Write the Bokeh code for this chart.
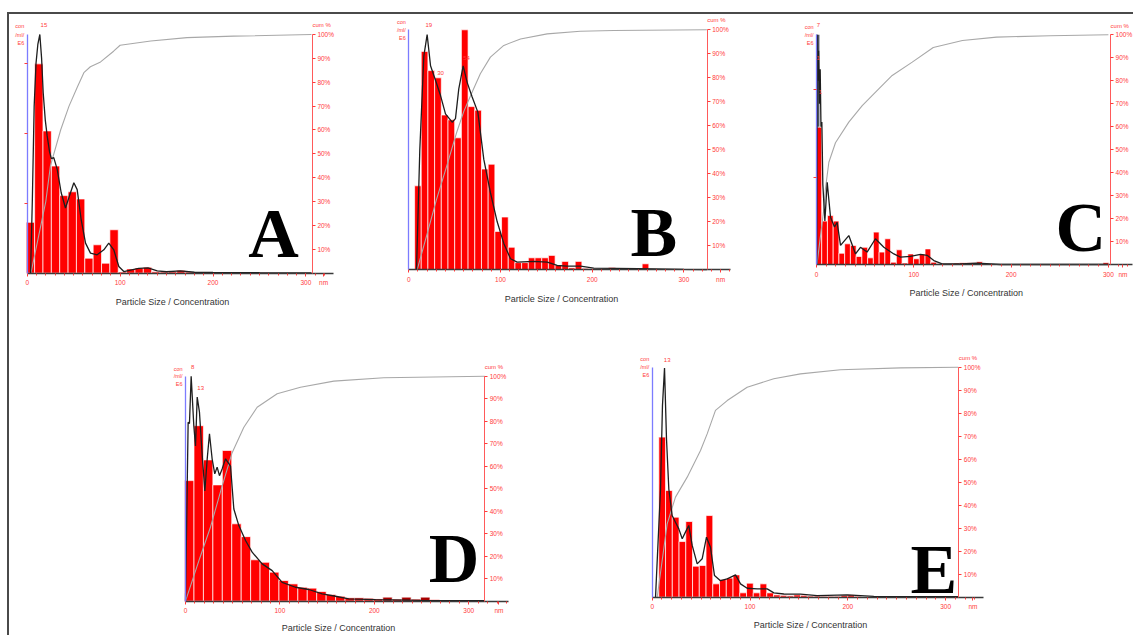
from bokeh.plotting import figure
from bokeh.layouts import column, row
from bokeh.models import Range1d, LinearAxis, FixedTicker, Label, PrintfTickFormatter
from bokeh.embed import file_html
from bokeh.resources import INLINE

# ---------------- shared texts / ticks ----------------
x_tick_values = [0, 100, 200, 300]
cum_tick_values = [10, 20, 30, 40, 50, 60, 70, 80, 90, 100]
x_title = "Particle Size / Concentration"
conc_unit_lines = ["con", "/ml/", "E6"]
cum_title = "cum %"
x_unit = "nm"

# ---------------- Panel A ----------------
a_bin_centers = [3.5, 12.5, 21.5, 30.5, 39.5, 48.5, 57.5, 66.5, 75.5, 84.5, 93.5, 102.5, 111.5, 120.5, 129.5,
                 138.5, 147.5, 156.5, 165.5, 174.5, 183.5, 192.5, 201.5, 210.5, 219.5, 228.5, 237.5, 246.5, 255.5]
a_bin_heights = [0.213, 0.877, 0.596, 0.449, 0.325, 0.341, 0.311, 0.063, 0.119, 0.042, 0.182, 0.005, 0.018, 0.022,
                 0.025, 0.006, 0.005, 0.006, 0.012, 0.005, 0.003, 0.003, 0.002, 0.002, 0.002, 0.002, 0.002, 0.002, 0.002]
a_bin_width = 9.0
a_curve_x = [3.6, 5.5, 7.5, 9.5, 11.5, 13.6, 15.5, 17.2, 19.5, 21.5, 24, 26, 28.6, 32.3, 36.6, 41.2, 46.6, 50.2,
             53.8, 58.1, 62.8, 68.1, 75.3, 82.5, 87.8, 93.2, 98.6, 104, 110, 120, 130, 140, 150, 165, 180, 200, 250, 306]
a_curve_y = [0.0, 0.3, 0.7, 0.88, 0.96, 1.0, 0.9, 0.757, 0.64, 0.575, 0.51, 0.48, 0.484, 0.435, 0.337, 0.273, 0.337,
             0.379, 0.35, 0.224, 0.126, 0.084, 0.077, 0.098, 0.126, 0.098, 0.028, 0.007, 0.012, 0.02, 0.022, 0.01,
             0.006, 0.01, 0.004, 0.003, 0.002, 0.001]
a_cum_x = [4, 12, 20, 25, 36, 45, 54, 61, 68, 79, 93, 100, 133, 172, 222, 306]
a_cum_y = [0, 15, 30, 45, 60, 70, 78, 84, 86.5, 88.5, 93, 95.5, 97.3, 98.7, 99.3, 100]
a_peak_text = ["15"]
a_peak_x = [18]
a_peak_y = [1.038]
a_left_ticks = [0.293, 0.587, 0.88]

# ---------------- Panel B ----------------
b_bin_centers = [10, 17.2, 24.5, 31.8, 39.1, 46.4, 53.7, 61, 68.3, 75.6, 82.9, 90.2, 97.5, 104.8, 112.1, 119.4,
                 126.7, 134, 141.3, 148.6, 155.9, 163.2, 170.5, 177.8, 185.1, 192.4, 199.7, 207, 214.3, 221.6,
                 228.9, 236.2, 243.5, 250.8, 258.1, 265.4, 272.7, 280, 287.3, 294.6]
b_bin_heights = [0.35, 0.91, 0.83, 0.80, 0.645, 0.625, 0.55, 1.0, 0.68, 0.665, 0.42, 0.44, 0.16, 0.22, 0.094, 0.03,
                 0.03, 0.05, 0.05, 0.05, 0.06, 0.02, 0.035, 0.008, 0.035, 0.006, 0.004, 0.003, 0.004, 0.01, 0.004,
                 0.003, 0.005, 0.004, 0.025, 0.004, 0.003, 0.002, 0.002, 0.002]
b_bin_width = 7.3
b_curve_x = [8.4, 12, 16.4, 20, 23.7, 29.1, 34.6, 40, 47.3, 50.9, 54.5, 59.3, 63.7, 69.1, 75.3, 81.8, 89.1, 96.4,
             103.6, 110.9, 118.2, 136.3, 151, 161.8, 172.7, 187.3, 201.7, 250, 300, 325]
b_curve_y = [0.0, 0.5, 0.89, 0.98, 0.85, 0.79, 0.726, 0.65, 0.615, 0.63, 0.754, 0.85, 0.78, 0.72, 0.657, 0.46, 0.32,
             0.2, 0.11, 0.046, 0.032, 0.035, 0.032, 0.018, 0.015, 0.015, 0.007, 0.005, 0.002, 0.001]
b_cum_x = [9.1, 20, 30, 42, 52, 60, 69, 78, 89, 103.6, 121.8, 150.9, 187, 223.6, 325]
b_cum_y = [0, 15, 29, 44, 57, 66, 74, 81.7, 88.6, 93.5, 96.2, 98.3, 99.4, 99.7, 100]
b_peak_text = ["19", "30", "54"]
b_peak_x = [21.8, 34.6, 62.9]
b_peak_y = [1.018, 0.818, 0.882]
b_left_ticks = []

# ---------------- Panel C ----------------
c_bin_centers = [2.4, 8.3, 14.2, 20.1, 26, 31.9, 37.8, 43.7, 49.6, 55.5, 61.4, 67.3, 73.2, 79.1, 85, 90.9, 96.8,
                 102.7, 108.6, 114.5, 120.4, 126.3, 132.2, 138.1, 144, 149.9, 155.8, 161.7, 167.6, 173.5, 179.4, 297.4]
c_bin_heights = [0.598, 0.189, 0.213, 0.189, 0.049, 0.09, 0.083, 0.035, 0.075, 0.029, 0.141, 0.054, 0.112, 0.01,
                 0.064, 0.006, 0.046, 0.025, 0.046, 0.068, 0.01, 0.003, 0.003, 0.004, 0.006, 0.008, 0.008, 0.008,
                 0.012, 0.004, 0.002, 0.008]
c_bin_width = 5.9
c_spike_x = [1.5]
c_spike_h = [1.0]
c_curve_x = [0.3, 0.8, 1.5, 2.2, 3.0, 3.8, 4.6, 5.5, 6.5, 8.6, 11, 14.4, 18.5, 21.2, 24.7, 33.2, 40.1, 45.2, 52,
             60.6, 69.2, 79.5, 86.3, 96.6, 106.9, 113.7, 120.6, 129.1, 148, 165.1, 189.1, 300]
c_curve_y = [0.0, 1.0, 0.8, 0.93, 0.7, 0.85, 0.6, 0.62, 0.35, 0.19, 0.358, 0.206, 0.163, 0.184, 0.083, 0.126, 0.046,
             0.075, 0.054, 0.112, 0.075, 0.046, 0.032, 0.035, 0.044, 0.04, 0.017, 0.003, 0.003, 0.006, 0.0, 0.0]
c_cum_x = [0.5, 4, 7.5, 9.2, 12.7, 19.5, 33.2, 47, 64, 77.8, 98.4, 120, 150, 185, 240, 300]
c_cum_y = [0, 12, 24, 33, 44.5, 53, 62, 69.2, 76.5, 82.3, 88.1, 94.5, 97.5, 99, 99.6, 100]
c_peak_text = ["7", "1", "1"]
c_peak_x = [2.1, 1.8, 3.9]
c_peak_y = [1.043, 0.9, 0.75]
c_left_ticks = [0.38, 0.76]

# ---------------- Panel D ----------------
d_bin_centers = [4, 14, 24, 34, 44, 54, 64, 74, 84, 94, 104, 114, 124, 134, 144, 154, 164, 174, 184, 194, 204,
                 214, 224, 234, 244, 254, 264, 274, 284, 294]
d_bin_heights = [0.536, 0.78, 0.628, 0.517, 0.67, 0.344, 0.287, 0.184, 0.173, 0.129, 0.092, 0.077, 0.062, 0.058,
                 0.043, 0.03, 0.022, 0.015, 0.015, 0.013, 0.01, 0.018, 0.009, 0.018, 0.009, 0.018, 0.007, 0.005,
                 0.004, 0.003]
d_bin_width = 10.0
d_marked_bins = [214, 234, 254]
d_curve_x = [0, 2.8, 4.2, 6, 8.8, 10.6, 12.4, 14.8, 17.7, 20.5, 23, 25.4, 28.2, 31, 33.5, 36, 38.8, 42.4, 47.7,
             51.2, 56.5, 63.6, 70.6, 81.2, 91.8, 102.4, 116.5, 130.6, 144.8, 158.9, 173, 201.3, 250, 317]
d_curve_y = [0.0, 0.795, 0.79, 1.0, 0.78, 0.69, 0.907, 0.84, 0.647, 0.49, 0.633, 0.744, 0.633, 0.566, 0.596, 0.558,
             0.588, 0.633, 0.6, 0.41, 0.336, 0.27, 0.218, 0.166, 0.136, 0.084, 0.062, 0.052, 0.033, 0.022, 0.01,
             0.007, 0.004, 0.002]
d_cum_x = [0, 15, 26.5, 38, 49.4, 61.8, 75.9, 97.1, 121.8, 157.1, 210, 317]
d_cum_y = [0, 19, 33, 50, 66, 77.3, 86.2, 92.2, 95.1, 97.8, 99.3, 100]
d_peak_text = ["8", "13"]
d_peak_x = [7.7, 16.1]
d_peak_y = [1.039, 0.947]
d_left_ticks = []

# ---------------- Panel E ----------------
e_bin_centers = [10.2, 17.1, 24, 30.9, 37.8, 44.7, 51.6, 58.5, 65.4, 72.3, 79.2, 86.1, 93, 99.9, 106.8, 113.7,
                 120.6, 127.5, 134.4, 141.3, 148.2, 155.1, 162, 168.9, 175.8, 182.7, 189.6, 196.5, 203.4, 210.3]
e_bin_heights = [0.696, 0.464, 0.348, 0.242, 0.329, 0.135, 0.138, 0.355, 0.058, 0.077, 0.083, 0.097, 0.019, 0.061,
                 0.019, 0.058, 0.019, 0.01, 0.008, 0.006, 0.01, 0.008, 0.005, 0.005, 0.004, 0.004, 0.004, 0.008,
                 0.01, 0.004]
e_bin_width = 6.9
e_curve_x = [3.4, 8.5, 10.5, 12.6, 14.6, 17, 20.4, 23.8, 27.2, 30.7, 34, 37.4, 40.9, 46, 51.1, 55.5, 59.6, 63.7,
             69.8, 76.7, 85.2, 90.3, 97.1, 107.4, 117.6, 124.4, 134.6, 151.6, 168.7, 199.4, 226.6, 313]
e_curve_y = [0.0, 0.47, 0.833, 0.996, 0.69, 0.47, 0.355, 0.326, 0.297, 0.254, 0.283, 0.312, 0.225, 0.145, 0.167,
             0.261, 0.217, 0.094, 0.072, 0.08, 0.097, 0.058, 0.039, 0.036, 0.036, 0.019, 0.014, 0.013, 0.007, 0.01,
             0.004, 0.002]
e_cum_x = [5.1, 15.3, 23.8, 35.8, 49.4, 56.2, 64.7, 76.7, 97.1, 124.3, 151.6, 192.5, 253.9, 313]
e_cum_y = [0, 31.9, 43.5, 52.2, 63.8, 71, 81.2, 85.5, 91.3, 95, 97.1, 98.9, 99.7, 100]
e_peak_text = ["13"]
e_peak_x = [15.3]
e_peak_y = [1.033]
e_left_ticks = []

# ---------------- styling ----------------
FONT = "Liberation Sans"
RED = "#ff0000"
TXT_RED = "#ff3b3b"
BLUE = "#7c7cff"
ORIGIN_X, ORIGIN_Y = 9, 14   # page position of the layout's content box


def make_panel(letter, letter_x, letter_y, box, mapping, axes_at, title_at, bins_x, bins_h, bin_w, cx, cy,
               cumx, cumy, pk_t, pk_x, pk_y, left_ticks, bar_colors=None, spike=None):
    # box: figure left, top, width, height (page px); mapping: page px of x=0, px per nm, page px of y=0, px per unit
    fl, ft, fw, fh = box
    x0, sx, y0, hy = mapping
    right_at, line_end, nm_at = axes_at
    x_rng = ((fl - x0) / sx, (fl + fw - x0) / sx)
    y_rng = ((y0 - (ft + fh)) / hy, (y0 - ft) / hy)
    p = figure(width=fw, height=fh, x_range=Range1d(*x_rng), y_range=Range1d(*y_rng),
               output_backend="svg", toolbar_location=None, title=None)
    p.extra_y_ranges = {"cum": Range1d(100 * y_rng[0], 100 * y_rng[1])}
    p.min_border = 0
    p.min_border_left = 0
    p.min_border_right = 0
    p.min_border_top = 0
    p.min_border_bottom = 0
    p.outline_line_color = None
    p.grid.visible = False
    p.background_fill_color = "white"
    p.border_fill_color = "white"

    # bottom axis, drawn at y = 0
    xa = p.xaxis[0]
    xa.fixed_location = 0
    xa.bounds = (0, line_end)
    xa.ticker = FixedTicker(ticks=x_tick_values + [nm_at], minor_ticks=list(range(0, int(line_end) + 1, 10)))
    xa.major_label_overrides = {nm_at: x_unit}
    xa.axis_line_color = "#3a3a3a"
    xa.axis_line_width = 1.3
    xa.major_tick_line_color = TXT_RED
    xa.minor_tick_line_color = TXT_RED
    xa.major_tick_out = 3
    xa.major_tick_in = 0
    xa.minor_tick_out = 2
    xa.minor_tick_in = 0
    xa.major_label_text_color = TXT_RED
    xa.major_label_text_font = FONT
    xa.major_label_text_font_size = "6.5px"
    xa.major_label_standoff = 3

    # left axis (concentration), drawn at x = 0
    ya = p.yaxis[0]
    ya.fixed_location = 0
    ya.bounds = (0, 1.0)
    ya.ticker = FixedTicker(ticks=[], minor_ticks=left_ticks)
    ya.axis_line_color = BLUE
    ya.axis_line_width = 1.3
    ya.minor_tick_line_color = TXT_RED
    ya.minor_tick_out = 3
    ya.minor_tick_in = 0
    ya.major_tick_line_color = None

    # right axis (cumulative %), drawn at the end of the size scale
    ra = LinearAxis(y_range_name="cum", ticker=FixedTicker(ticks=cum_tick_values, minor_ticks=[]),
                    formatter=PrintfTickFormatter(format="%d%%"), fixed_location=right_at, bounds=(0, 100))
    ra.axis_line_color = "#ff5a5a"
    ra.major_tick_line_color = TXT_RED
    ra.major_tick_out = 3
    ra.major_tick_in = 0
    ra.minor_tick_line_color = None
    ra.major_label_text_color = TXT_RED
    ra.major_label_text_font = FONT
    ra.major_label_text_font_size = "6.5px"
    ra.major_label_standoff = 2
    p.add_layout(ra, "right")

    if spike is not None:
        p.vbar(x=spike[0], top=spike[1], width=3.0, fill_color="#4f5460", line_color=None)
    colors = bar_colors if bar_colors is not None else RED
    p.vbar(x=bins_x, top=bins_h, width=bin_w, fill_color=colors, line_color="white", line_width=0.7)
    p.line(cumx, cumy, y_range_name="cum", line_color="#a8a8a8", line_width=1.1)
    p.line(cx, cy, line_color="#1e1e1e", line_width=1.3)

    for t, x, y in zip(pk_t, pk_x, pk_y):
        p.add_layout(Label(x=x, y=y, text=t, text_font=FONT, text_font_size="6px", text_color=TXT_RED,
                           text_align="center", text_baseline="middle"))
    for t, y in zip(conc_unit_lines, [1.034, 1.0, 0.966]):
        p.add_layout(Label(x=0, y=y, text=t, x_offset=-3, text_font=FONT,
                           text_font_size="5.5px", text_color=TXT_RED, text_align="right", text_baseline="middle"))
    p.add_layout(Label(x=right_at, y=104, y_range_name="cum", text=cum_title, x_offset=0,
                       text_font=FONT, text_font_size="6px", text_color=TXT_RED,
                       text_align="left", text_baseline="middle"))
    p.add_layout(Label(x=title_at[0], y=title_at[1], text=x_title, text_font=FONT, text_font_size="9px",
                       text_color="#333333", text_align="center", text_baseline="middle"))
    p.add_layout(Label(x=letter_x, y=letter_y, y_range_name="cum", text=letter, text_font="Liberation Serif",
                       text_font_style="bold", text_font_size="70px", text_color="black",
                       text_align="left", text_baseline="middle"))
    return p


pA = make_panel("A", 238, 16.6, (ORIGIN_X, ORIGIN_Y, 361, 326), (26.7, 0.929, 272.7, 238.7),
                (307, 329.7, 319), (156.4, -0.119),
                a_bin_centers, a_bin_heights, a_bin_width, a_curve_x, a_curve_y, a_cum_x, a_cum_y,
                a_peak_text, a_peak_x, a_peak_y, a_left_ticks)
pB = make_panel("B", 241.8, 15.5, (ORIGIN_X + 361, ORIGIN_Y, 420, 326), (408.3, 0.917, 269.3, 240.0),
                (325.4, 350.8, 340), (166.5, -0.12),
                b_bin_centers, b_bin_heights, b_bin_width, b_curve_x, b_curve_y, b_cum_x, b_cum_y,
                b_peak_text, b_peak_x, b_peak_y, b_left_ticks)
pC = make_panel("C", 245.6, 16.3, (ORIGIN_X + 781, ORIGIN_Y, 343, 326), (816.0, 0.973, 264.0, 229.7),
                (302.2, 325, 315), (154, -0.126),
                c_bin_centers, c_bin_heights, c_bin_width, c_curve_x, c_curve_y, c_cum_x, c_cum_y,
                c_peak_text, c_peak_x, c_peak_y, c_left_ticks, spike=(c_spike_x, c_spike_h))
d_colors = ["#a80000" if x in d_marked_bins else RED for x in d_bin_centers]
pD = make_panel("D", 257.7, 19.2, (ORIGIN_X, ORIGIN_Y + 326, 551, 295), (185.0, 0.944, 600.7, 225.0),
                (317, 342, 332), (162, -0.117),
                d_bin_centers, d_bin_heights, d_bin_width, d_curve_x, d_curve_y, d_cum_x, d_cum_y,
                d_peak_text, d_peak_x, d_peak_y, d_left_ticks, bar_colors=d_colors)
pE = make_panel("E", 264, 12.0, (ORIGIN_X + 551, ORIGIN_Y + 326, 440, 295), (651.7, 0.978, 596.7, 230.0),
                (313.5, 338.8, 328), (161.9, -0.123),
                e_bin_centers, e_bin_heights, e_bin_width, e_curve_x, e_curve_y, e_cum_x, e_cum_y,
                e_peak_text, e_peak_x, e_peak_y, e_left_ticks)

layout = column(row(pA, pB, pC, spacing=0), row(pD, pE, spacing=0), spacing=0, margin=(12, 0, 0, 7),
                styles={"border-top": "2px solid #4a4a4a", "border-left": "2px solid #4a4a4a"})

open("out.html", "w").write(file_html(layout, INLINE))
